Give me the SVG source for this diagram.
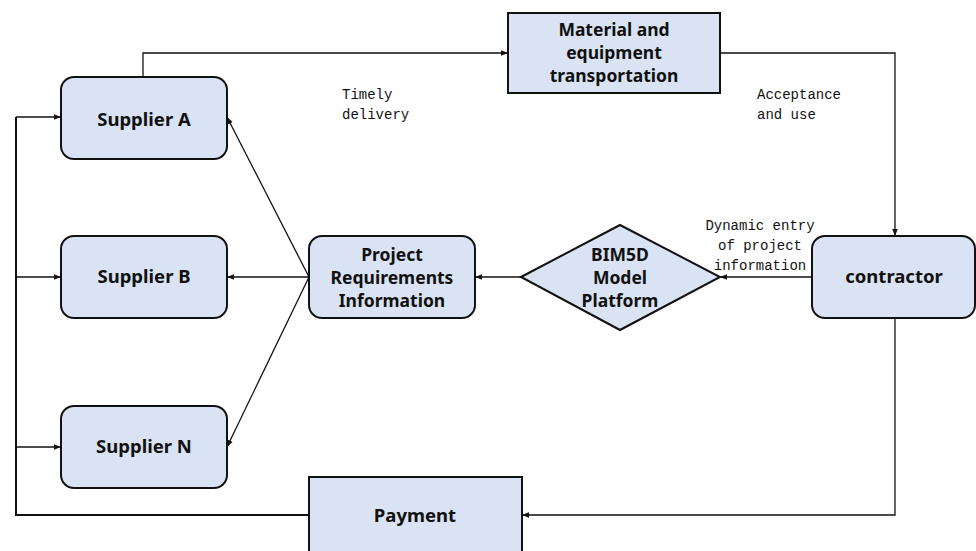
<svg xmlns="http://www.w3.org/2000/svg" width="976" height="551" viewBox="0 0 976 551">
<style>
.box{fill:#dae3f3;stroke:#111;stroke-width:2}
.lbl{font-family:"Noto Sans","Liberation Sans",sans-serif;font-weight:bold;font-size:18.5px;fill:#111;text-anchor:middle}
.ml{font-size:17.5px}
.note{font-family:"Liberation Mono","DejaVu Sans Mono",monospace;font-size:14px;fill:#111}
.c{fill:none;stroke:#111;stroke-width:1.3}
</style>
<defs>
<marker id="ah" viewBox="0 0 10 10" refX="10" refY="5" markerWidth="7" markerHeight="7" markerUnits="userSpaceOnUse" orient="auto">
<path d="M0,1 L10,5 L0,9 z" fill="#111"/>
</marker>
</defs>
<rect width="976" height="551" fill="#fff"/>
<g id="connectors">
<path class="c" d="M143,77 V53 H508" marker-end="url(#ah)"/>
<path class="c" d="M720,53 H895 V236" marker-end="url(#ah)"/>
<path class="c" d="M812,277 H720" marker-end="url(#ah)"/>
<path class="c" d="M521,277 H475" marker-end="url(#ah)"/>
<path class="c" d="M309,277 L227,117" marker-end="url(#ah)"/>
<path class="c" d="M309,277 H227" marker-end="url(#ah)"/>
<path class="c" d="M309,277 L227,447" marker-end="url(#ah)"/>
<path class="c" d="M895,318 V515 H522" marker-end="url(#ah)"/>
<path class="c" d="M309,515 H16 V117" style="stroke-width:2"/>
<path class="c" d="M16,117 H61" marker-end="url(#ah)"/>
<path class="c" d="M16,277 H61" marker-end="url(#ah)"/>
<path class="c" d="M16,447 H61" marker-end="url(#ah)"/>
</g>
<g id="supplierA"><rect class="box" x="61" y="77" width="166" height="82" rx="13"/><text class="lbl" x="144" y="126">Supplier A</text></g>
<g id="supplierB"><rect class="box" x="61" y="236" width="166" height="82" rx="13"/><text class="lbl" x="144" y="283">Supplier B</text></g>
<g id="supplierN"><rect class="box" x="61" y="406" width="166" height="82" rx="13"/><text class="lbl" x="144" y="453">Supplier N</text></g>
<g id="material"><rect class="box" x="508" y="13" width="212" height="80"/><text class="lbl ml" x="614" y="36">Material and</text><text class="lbl ml" x="614" y="59">equipment</text><text class="lbl ml" x="614" y="82">transportation</text></g>
<g id="pri"><rect class="box" x="309" y="236" width="166" height="82" rx="13"/><text class="lbl ml" x="392" y="261">Project</text><text class="lbl ml" x="392" y="284">Requirements</text><text class="lbl ml" x="392" y="307">Information</text></g>
<g id="bim5d"><path class="box" d="M521,277 L620,225 L720,277 L620,330 Z"/><text class="lbl ml" x="620" y="261">BIM5D</text><text class="lbl ml" x="620" y="284">Model</text><text class="lbl ml" x="620" y="307">Platform</text></g>
<g id="contractor"><rect class="box" x="812" y="236" width="163" height="82" rx="13"/><text class="lbl" x="894" y="283">contractor</text></g>
<g id="payment"><rect class="box" x="309" y="477" width="213" height="80"/><text class="lbl" x="415" y="522">Payment</text></g>
<g id="notes">
<text class="note" x="342" y="99">Timely</text>
<text class="note" x="342" y="119">delivery</text>
<text class="note" x="757" y="99">Acceptance</text>
<text class="note" x="757" y="119">and use</text>
<text class="note" x="760" y="230" text-anchor="middle">Dynamic entry</text>
<text class="note" x="760" y="250" text-anchor="middle">of project</text>
<text class="note" x="760" y="270" text-anchor="middle">information</text>
</g>
</svg>
